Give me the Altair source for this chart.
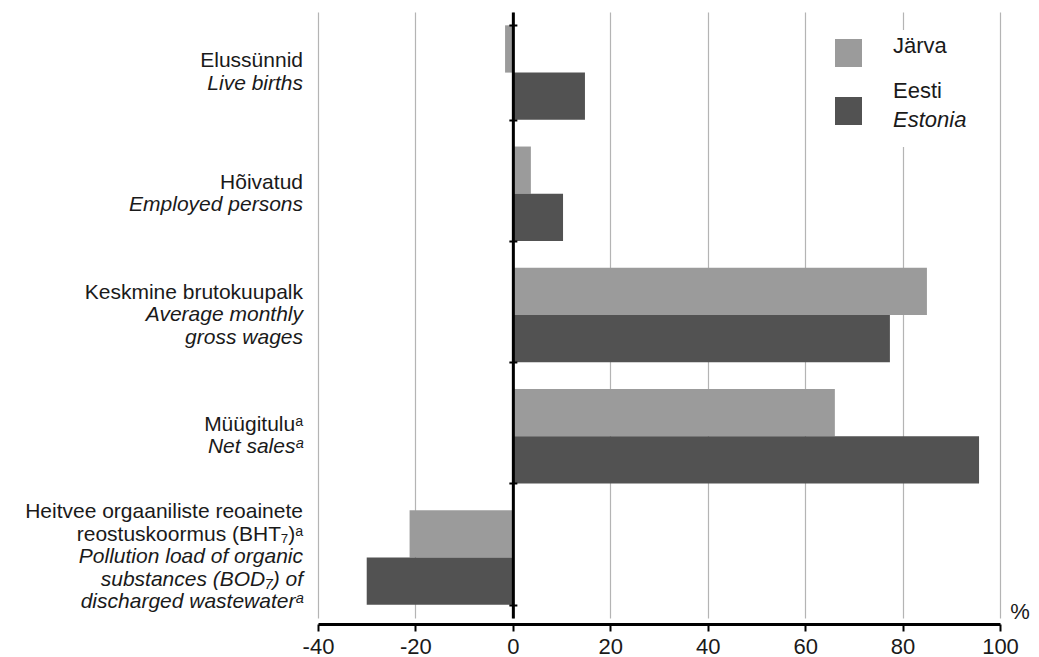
import altair as alt
import pandas as pd

# ---------------- data ----------------
categories = ["Elussünnid", "Hõivatud", "Keskmine brutokuupalk", "Müügitulu", "Heitvee"]
label_et = [
    ["Elussünnid"],
    ["Hõivatud"],
    ["Keskmine brutokuupalk"],
    ["Müügituluᵃ"],
    ["Heitvee orgaaniliste reoainete", "reostuskoormus (BHT₇)ᵃ"],
]
label_en = [
    ["Live births"],
    ["Employed persons"],
    ["Average monthly", "gross wages"],
    ["Net salesᵃ"],
    ["Pollution load of organic", "substances (BOD₇) of", "discharged wastewaterᵃ"],
]
series = ["Järva", "Eesti"]
series_en = ["", "Estonia"]
jarva = [-1.6, 3.7, 85.0, 66.1, -21.2]
eesti = [14.8, 10.3, 77.4, 95.7, -30.0]
x_ticks = [-40, -20, 0, 20, 40, 60, 80, 100]
colors = ["#9b9b9b", "#525252"]
unit_label = "%"

# ---------------- layout / style ----------------
W, H = 682, 606
XMIN, XMAX = -40, 100
ZERO_PX = (0 - XMIN) / (XMAX - XMIN) * W
FONT = "Liberation Sans"
TXT = "#1a1a1a"
FS = 22
FS_CAT = 21
LINE = 22.5

bars_df = pd.DataFrame({
    "category": categories * 2,
    "series": [series[0]] * len(categories) + [series[1]] * len(categories),
    "value": jarva + eesti,
})

yscale = alt.Scale(domain=categories, paddingInner=0.22, paddingOuter=0.11)
xscale = alt.Scale(domain=[XMIN, XMAX], nice=False, zero=False)

bars = alt.Chart(bars_df).mark_bar().encode(
    x=alt.X("value:Q", scale=xscale,
            axis=alt.Axis(values=x_ticks, title=None, grid=True, gridColor="#b4b4b4",
                          gridWidth=1.2, ticks=True, tickSize=7, tickWidth=2, tickColor="black",
                          domainColor="black", domainWidth=3, offset=6,
                          labelExpr="'' + datum.value",
                          labelFontSize=FS, labelFont=FONT, labelColor=TXT,
                          labelPadding=5, labelFlush=False)),
    y=alt.Y("category:N", scale=yscale,
            axis=alt.Axis(title=None, labels=False, domain=True, domainColor="black",
                          domainWidth=3, ticks=True, tickBand="extent", tickColor="black",
                          tickWidth=2, tickSize=4, offset=-ZERO_PX, zindex=1, grid=False)),
    yOffset=alt.YOffset("series:N", sort=series),
    color=alt.Color("series:N", scale=alt.Scale(domain=series, range=colors), legend=None),
)

# category labels: one layer per (line position, style)
groups = {}
for cat, et, en in zip(categories, label_et, label_en):
    lines = [(t, False) for t in et] + [(t, True) for t in en]
    n = len(lines)
    for j, (t, it) in enumerate(lines):
        dy = (j - (n - 1) / 2) * LINE + 6
        groups.setdefault((dy, it), []).append({"category": cat, "text": t})

text_layers = []
first = True
for (dy, it), rows in groups.items():
    if first:
        ax = alt.Axis(orient="right", offset=-(W - ZERO_PX), labels=False, domain=False,
                      ticks=True, tickBand="extent", tickSize=4, tickColor="black",
                      tickWidth=2, title=None, grid=False, zindex=1)
        first = False
    else:
        ax = None
    text_layers.append(
        alt.Chart(pd.DataFrame(rows)).mark_text(
            align="right", baseline="alphabetic", dy=dy, font=FONT, fontSize=FS_CAT,
            fontStyle="italic" if it else "normal", color=TXT,
        ).encode(
            x=alt.value(-15),
            y=alt.Y("category:N", scale=yscale, axis=ax),
            text="text:N",
        )
    )

dummy = alt.Data(values=[{}])

# legend (drawn manually to allow the italic English line)
legend_layers = [
    alt.Chart(dummy).mark_rect(fill="white").encode(
        x=alt.value(504), x2=alt.value(672), y=alt.value(18), y2=alt.value(135))
]
sq_y = [27, 85]
txt_y = [[41], [86, 115]]
for i, s in enumerate(series):
    legend_layers.append(
        alt.Chart(dummy).mark_rect(fill=colors[i]).encode(
            x=alt.value(517), x2=alt.value(544), y=alt.value(sq_y[i]), y2=alt.value(sq_y[i] + 28))
    )
    names = [s] + ([series_en[i]] if series_en[i] else [])
    for k, nm in enumerate(names):
        legend_layers.append(
            alt.Chart(alt.Data(values=[{"t": nm}])).mark_text(
                align="left", baseline="alphabetic", font=FONT, fontSize=FS,
                fontStyle="italic" if k == 1 else "normal", color=TXT,
            ).encode(x=alt.value(575), y=alt.value(txt_y[i][k]), text="t:N")
        )

unit = alt.Chart(alt.Data(values=[{"t": unit_label}])).mark_text(
    align="center", baseline="alphabetic", font=FONT, fontSize=FS, color=TXT,
).encode(x=alt.value(702), y=alt.value(607), text="t:N")

chart = alt.layer(bars, *text_layers, *legend_layers, unit).resolve_axis(
    y="independent"
).properties(
    width=W, height=H,
    autosize=alt.AutoSizeParams(type="none"),
    padding={"left": 310, "top": 4, "right": 30, "bottom": 42},
).configure_view(stroke=None)

chart.save("out.html", embed_options={"renderer": "svg", "actions": False})
